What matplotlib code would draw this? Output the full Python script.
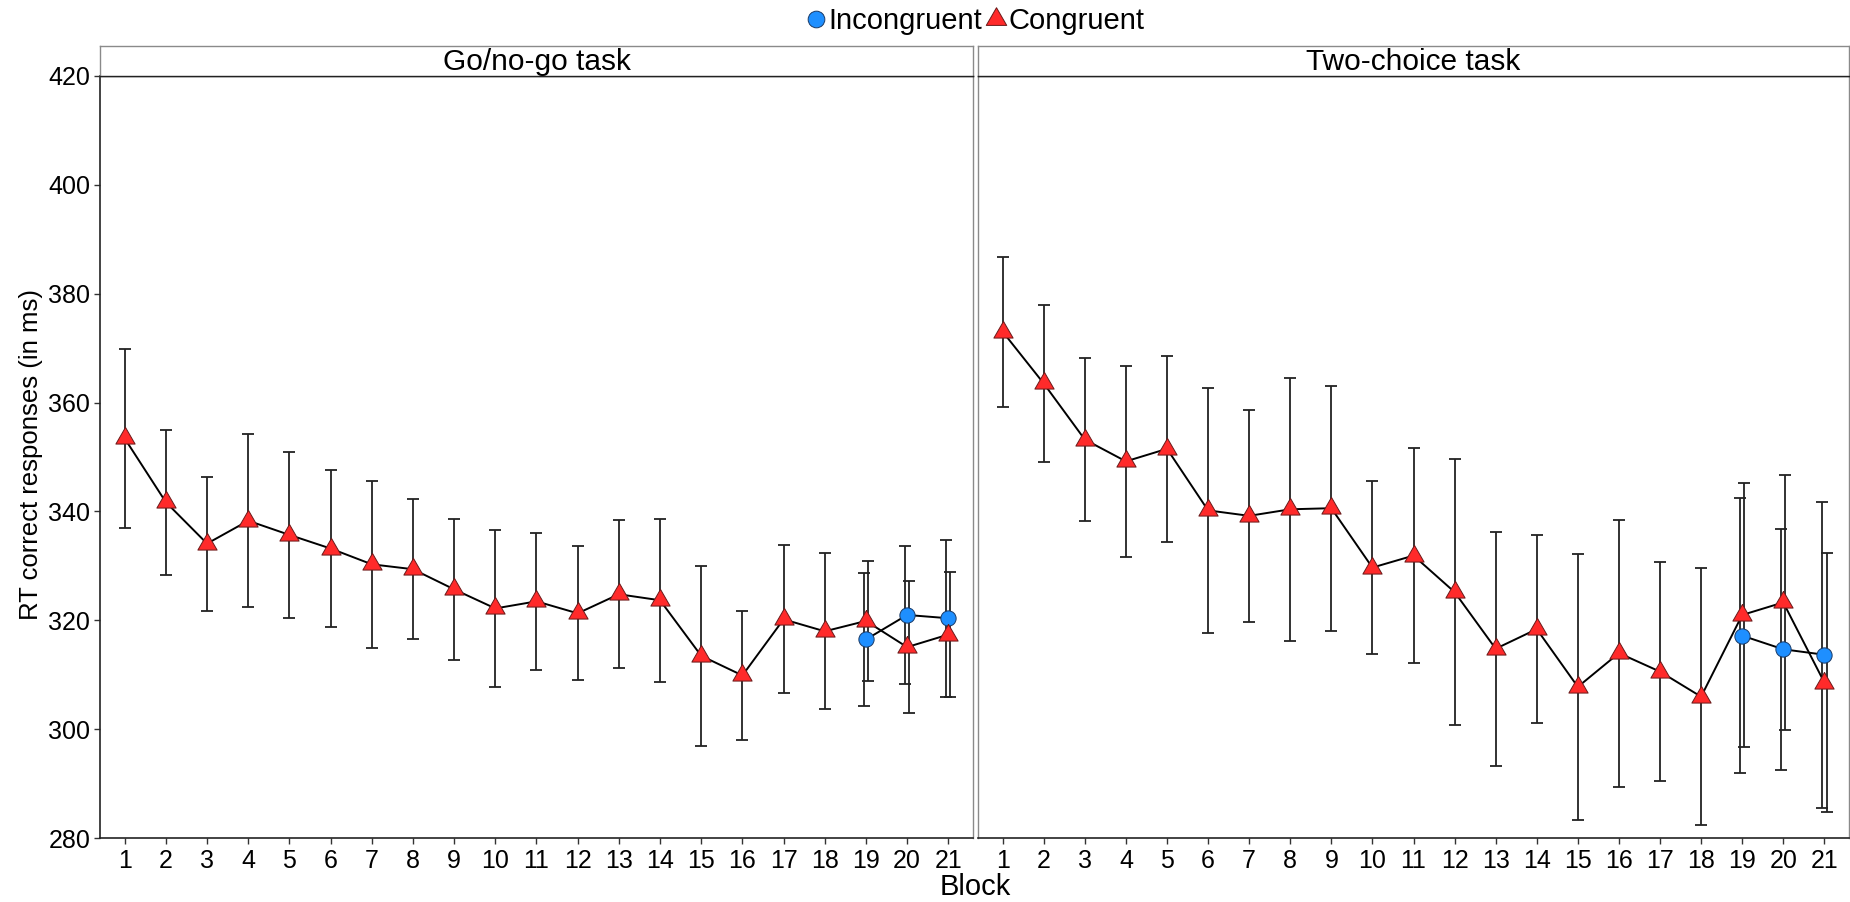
import matplotlib
matplotlib.use("Agg")
import matplotlib.pyplot as plt
from matplotlib.lines import Line2D
import numpy as np

plt.rcParams['font.family'] = ['Liberation Sans', 'DejaVu Sans']

# ---- data ----
blocks = list(range(1, 22))
dual_blocks = [19, 20, 21]

gonogo_cong_mean = [353.4, 341.7, 334.1, 338.3, 335.7, 333.2, 330.3, 329.4, 325.7, 322.2, 323.5,
                    321.3, 324.8, 323.7, 313.5, 309.9, 320.2, 318.0, 319.9, 315.1, 317.4]
gonogo_cong_err = [16.4, 13.3, 12.3, 15.9, 15.3, 14.4, 15.3, 12.9, 12.9, 14.4, 12.6,
                   12.3, 13.6, 15.0, 16.5, 11.9, 13.6, 14.3, 11.0, 12.1, 11.5]
gonogo_incong_mean = [316.5, 321.0, 320.4]
gonogo_incong_err = [12.2, 12.6, 14.4]

twochoice_cong_mean = [373.0, 363.5, 353.2, 349.2, 351.5, 340.2, 339.2, 340.4, 340.6, 329.7, 331.9,
                       325.2, 314.8, 318.4, 307.8, 314.0, 310.6, 306.0, 321.0, 323.3, 308.6]
twochoice_cong_err = [13.8, 14.4, 14.9, 17.5, 17.1, 22.5, 19.4, 24.1, 22.5, 15.9, 19.7,
                      24.4, 21.5, 17.2, 24.4, 24.5, 20.1, 23.6, 24.2, 23.4, 23.7]
twochoice_incong_mean = [317.2, 314.7, 313.7]
twochoice_incong_err = [25.2, 22.1, 28.1]

panels = [
    ("Go/no-go task", gonogo_cong_mean, gonogo_cong_err, gonogo_incong_mean, gonogo_incong_err),
    ("Two-choice task", twochoice_cong_mean, twochoice_cong_err, twochoice_incong_mean, twochoice_incong_err),
]

# ---- style ----
RED = '#FF2A2A'
BLUE = '#1E8FFF'
TRI = [(0, 0.577), (-0.5, -0.289), (0.5, -0.289), (0, 0.577)]  # equilateral triangle
TICK_FS = 18
LABEL_FS = 21.5
DODGE = 0.053

W, H = 1850, 902
fig = plt.figure(figsize=(W / 100, H / 100), dpi=100)

ax_bottom = 1 - 838.3 / H
ax_top = 1 - 75.7 / H
strip_top = 1 - 45.7 / H
lefts = [(100, 973), (978, 1849)]

for i, (title, c_mean, c_err, i_mean, i_err) in enumerate(panels):
    x0, x1 = lefts[i]
    ax = fig.add_axes([x0 / W, ax_bottom, (x1 - x0) / W, ax_top - ax_bottom])

    bx = np.array(blocks, dtype=float)
    dx = np.array(dual_blocks, dtype=float)

    # error bars, dodged apart where both conditions exist
    cx = bx.copy()
    cx[-3:] += DODGE
    ax.errorbar(cx, c_mean, yerr=c_err, fmt='none', ecolor='#222222', elinewidth=1.3,
                capsize=4.5, capthick=1.3, zorder=2)
    ax.errorbar(dx - DODGE, i_mean, yerr=i_err, fmt='none', ecolor='#222222', elinewidth=1.3,
                capsize=4.5, capthick=1.3, zorder=2)

    # lines
    ax.plot(bx, c_mean, color='black', lw=1.4, zorder=3)
    ax.plot(dx, i_mean, color='black', lw=1.4, zorder=3)

    # points
    ax.plot(dx, i_mean, linestyle='none', marker='o', markersize=11, markerfacecolor=BLUE,
            markeredgecolor='#1a3a66', markeredgewidth=0.7, zorder=4)
    ax.plot(bx, c_mean, linestyle='none', marker=TRI, markersize=16, markerfacecolor=RED,
            markeredgecolor='#6a1a1a', markeredgewidth=0.7, zorder=5)

    ax.set_xlim(0.4, 21.6)
    ax.set_ylim(280, 420)
    ax.set_xticks(blocks)
    ax.set_xticklabels([str(b) for b in blocks], fontsize=TICK_FS)
    ax.set_yticks(range(280, 421, 20))
    ax.tick_params(axis='both', direction='out', length=4, width=1, color='#333333', pad=3)
    ax.tick_params(axis='x', pad=4)

    for side in ['top', 'right', 'left']:
        ax.spines[side].set_color('#8a8a8a')
        ax.spines[side].set_linewidth(1.0)
    ax.spines['bottom'].set_color('#222222')
    ax.spines['bottom'].set_linewidth(1.2)
    ax.spines['top'].set_color('#222222')

    if i == 0:
        ax.set_yticklabels([str(v) for v in range(280, 421, 20)], fontsize=TICK_FS)
        ax.spines['left'].set_color('#222222')
        ax.spines['left'].set_linewidth(1.2)
    else:
        ax.tick_params(axis='y', left=False, labelleft=False)

    # facet strip
    sax = fig.add_axes([x0 / W, ax_top, (x1 - x0) / W, strip_top - ax_top])
    sax.set_xticks([])
    sax.set_yticks([])
    for side in sax.spines:
        sax.spines[side].set_color('#8a8a8a')
        sax.spines[side].set_linewidth(1.0)
    sax.spines['bottom'].set_color('#222222')
    sax.text(0.5, 0.45, title, ha='center', va='center', fontsize=LABEL_FS, transform=sax.transAxes)

fig.text(31 / W, 1 - 455 / H, 'RT correct responses (in ms)', rotation=90,
         ha='center', va='center', fontsize=18.5)
fig.text(975 / W, 1 - 887 / H, 'Block', ha='center', va='center', fontsize=21)

handles = [
    Line2D([], [], linestyle='none', marker='o', markersize=12, markerfacecolor=BLUE,
           markeredgecolor='#1a3a66', markeredgewidth=0.7),
    Line2D([], [], linestyle='none', marker=TRI, markersize=17, markerfacecolor=RED,
           markeredgecolor='#6a1a1a', markeredgewidth=0.7),
]
fig.legend(handles, ['Incongruent', 'Congruent'], loc='center', bbox_to_anchor=(975 / W, 1 - 21 / H),
           ncol=2, frameon=False, fontsize=21, handlelength=0.7, handletextpad=0.1,
           columnspacing=0.1, borderaxespad=0)

fig.savefig('out.png', dpi=100, facecolor='white')
